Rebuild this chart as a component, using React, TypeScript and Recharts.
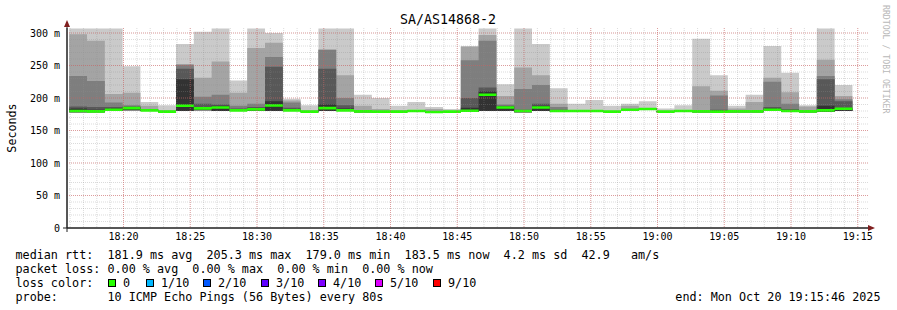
import { ComposedChart, Area, XAxis, YAxis, CartesianGrid } from 'recharts';

// one step = 80 s, first step starts 18:15:56
const startTime = 65756;
const stepSeconds = 80;

const medianRtt = [
  180, 179.5, 182, 184.5, 181, 179, 188, 184, 185.5, 181, 182.5, 188.5, 181, 179, 184.5, 181, 179.5, 179, 179, 180, 178.5, 179,
  180.5, 205, 185.5, 180, 185.5, 180, 180, 180, 179, 182, 183, 179, 180, 179.5, 179, 179.5, 179.5, 182, 180, 179.5, 181, 183.5,
];
const ping1 = [
  178, 178, 180, 181, 180, 178, 180, 181, 180, 180, 180, 180, 180, 178, 180, 180, 178, 178, 178, 179, 177, 178,
  179, 180, 180, 178, 180, 179, 179, 179, 178, 181, 182, 178, 179, 178, 178, 178, 178, 180, 179, 178, 179, 180,
];
const ping6 = [
  184, 182, 184, 186, 182, 180, 229, 186, 188, 182, 184, 195, 182, 180, 190, 184, 181, 180, 180, 181, 180, 180,
  185, 210, 187, 181, 188, 181, 181, 181, 180, 183, 184, 180, 181, 181, 181, 181, 181, 184, 181, 181, 188, 184,
];
const ping7 = [
  187, 186, 186, 187, 182, 180, 245, 191, 190, 184, 186, 248, 185, 180, 245, 189, 181, 180, 180, 181, 180, 180,
  200, 216, 188, 182, 191, 182, 181, 181, 180, 183, 184, 180, 181, 181, 182, 181, 181, 186, 183, 181, 229, 195,
];
const ping8 = [
  234, 226, 193, 189, 183, 180, 251, 202, 205, 188, 191, 263, 193, 180, 274, 200, 181, 180, 180, 181, 180, 180,
  258, 288, 190, 214, 220, 186, 181, 181, 180, 183, 184, 180, 181, 181, 204, 181, 181, 225, 191, 181, 234, 198,
];
const ping9 = [
  298, 288, 206, 208, 188, 181, 252, 231, 256, 208, 277, 285, 196, 181, 275, 235, 188, 183, 181, 181, 183, 180,
  279, 297, 203, 247, 235, 191, 181, 181, 180, 188, 184, 180, 181, 218, 211, 184, 194, 231, 209, 187, 259, 203,
];
const ping10 = [
  307, 307, 307, 249, 194, 189, 283, 302, 307, 227, 307, 300, 199, 189, 307, 307, 205, 200, 188, 194, 186, 183,
  280, 307, 221, 307, 283, 215, 191, 197, 188, 191, 195, 184, 189, 291, 235, 188, 205, 280, 239, 189, 307, 220,
];

const timeTicks = [66000, 66300, 66600, 66900, 67200, 67500, 67800, 68100, 68400, 68700, 69000, 69300];
const timeLabels = ['18:20', '18:25', '18:30', '18:35', '18:40', '18:45', '18:50', '18:55', '19:00', '19:05', '19:10', '19:15'];
const rttTicks = [0, 50, 100, 150, 200, 250, 300];
const rttLabels = ['0', '50 m', '100 m', '150 m', '200 m', '250 m', '300 m'];

const lossLabels = ['0', '1/10', '2/10', '3/10', '4/10', '5/10', '9/10'];
const lossColors = ['#26ff00', '#00b8ff', '#0059ff', '#5e00ff', '#7e00ff', '#dd00ff', '#ff0000'];
const lossBoxX = [108, 146, 203, 261, 318, 375, 433];

const minuteGrid: number[] = [];
for (let t = 65760; t <= 69346; t += 60) minuteGrid.push(t);
const tenGrid: number[] = [];
for (let v = 10; v <= 300; v += 10) tenGrid.push(v);

const rows = medianRtt.map((m, i) => ({
  t: startTime + i * stepSeconds,
  med: m,
  p1: ping1[i],
  p6: ping6[i],
  p7: ping7[i],
  p8: ping8[i],
  p9: ping9[i],
  p10: ping10[i],
}));
rows.push({ ...rows[rows.length - 1], t: startTime + medianRtt.length * stepSeconds });

type Row = (typeof rows)[number];

const smoke: { top: keyof Row; color: string }[] = [
  { top: 'p10', color: '#cacaca' },
  { top: 'p9', color: '#a4a4a4' },
  { top: 'p8', color: '#7e7e7e' },
  { top: 'p7', color: '#585858' },
  { top: 'p6', color: '#323232' },
];

const mono = '"DejaVu Sans Mono", monospace';

export default function App() {
  return (
    <div style={{ position: 'absolute', left: 0, top: 0, width: 897, height: 310, background: '#fff' }}>
      <ComposedChart width={897} height={310} data={rows} margin={{ top: 28, right: 29, left: 7, bottom: 62 }}>
        <XAxis
          type="number"
          dataKey="t"
          domain={[65746, 69346]}
          allowDataOverflow
          ticks={timeTicks}
          interval={0}
          tickFormatter={(v) => timeLabels[timeTicks.indexOf(v)]}
          tickLine={false}
          tickSize={0}
          tickMargin={5}
          height={20}
          axisLine={{ stroke: '#1f1f1f' }}
          tick={{ fontSize: 10, fontFamily: mono, fill: '#000' }}
        />
        <YAxis
          type="number"
          domain={[0, 307.7]}
          allowDataOverflow
          ticks={rttTicks}
          interval={0}
          tickFormatter={(v) => rttLabels[rttTicks.indexOf(v)]}
          tickLine={false}
          tickSize={0}
          tickMargin={7}
          width={60}
          axisLine={{ stroke: '#1f1f1f' }}
          tick={{ fontSize: 10, fontFamily: mono, fill: '#000' }}
        />
        {smoke.map((s) => (
          <Area
            key={s.top}
            type="stepAfter"
            dataKey={(d: Row) => [d.p1, d[s.top] as number]}
            fill={s.color}
            fillOpacity={1}
            stroke="none"
            dot={false}
            activeDot={false}
            isAnimationActive={false}
          />
        ))}
        <Area
          type="stepAfter"
          dataKey={(d: Row) => [d.med - 2, d.med + 2]}
          fill="#26ff00"
          fillOpacity={1}
          stroke="none"
          dot={false}
          activeDot={false}
          isAnimationActive={false}
        />
        <CartesianGrid
          horizontalValues={tenGrid}
          verticalValues={minuteGrid}
          stroke="#8f8f8f"
          strokeOpacity={0.32}
          strokeDasharray="1 1"
          zIndex={500}
        />
        <CartesianGrid
          horizontalValues={rttTicks.filter((v) => v > 0)}
          verticalValues={timeTicks}
          stroke="#de5050"
          strokeOpacity={0.45}
          strokeDasharray="1 1"
          zIndex={510}
        />
      </ComposedChart>
      <svg
        width={897}
        height={310}
        xmlSpace="preserve"
        style={{ position: 'absolute', left: 0, top: 0, pointerEvents: 'none' }}
      >
        {/* rrdtool-style axis overhang + arrows */}
        <line x1={63} y1={228} x2={868} y2={228} stroke="#1f1f1f" strokeWidth={1} />
        <line x1={67} y1={232} x2={67} y2={24} stroke="#1f1f1f" strokeWidth={1} />
        <polygon points="64,27 70,27 67,20" fill="#801f1f" />
        <polygon points="868,225 868,231 875,228" fill="#801f1f" />
        <text x={448} y={24} textAnchor="middle" fontFamily={mono} fontSize={13.3} fill="#000">
          SA/AS14868-2
        </text>
        <text x={16} y={128} transform="rotate(-90 16 128)" textAnchor="middle" fontFamily={mono} fontSize={11.7} fill="#000">
          Seconds
        </text>
        <text x={883} y={5} transform="rotate(90 883 5)" fontFamily={mono} fontSize={8.2} fill="#b8b8b8">
          RRDTOOL / TOBI OETIKER
        </text>
        <g fontFamily={mono} fontSize={11.75} fill="#000">
          <text xmlSpace="preserve" x={15.5} y={258.5}>
            {'median rtt:  181.9 ms avg  205.3 ms max  179.0 ms min  183.5 ms now  4.2 ms sd  42.9   am/s'}
          </text>
          <text xmlSpace="preserve" x={15.5} y={272.5}>
            {'packet loss: 0.00 % avg  0.00 % max  0.00 % min  0.00 % now'}
          </text>
          <text x={15.5} y={286.8}>loss color:</text>
          {lossLabels.map((l, i) => (
            <g key={l}>
              <rect x={lossBoxX[i] + 0.5} y={279.5} width={7} height={7} fill={lossColors[i]} stroke="#000" strokeWidth={1} />
              <text x={lossBoxX[i] + 15} y={286.8}>{l}</text>
            </g>
          ))}
          <text xmlSpace="preserve" x={15.5} y={300.8}>
            {'probe:       10 ICMP Echo Pings (56 Bytes) every 80s'}
          </text>
          <text x={880.5} y={300.8} textAnchor="end">
            end: Mon Oct 20 19:15:46 2025
          </text>
        </g>
      </svg>
    </div>
  );
}
